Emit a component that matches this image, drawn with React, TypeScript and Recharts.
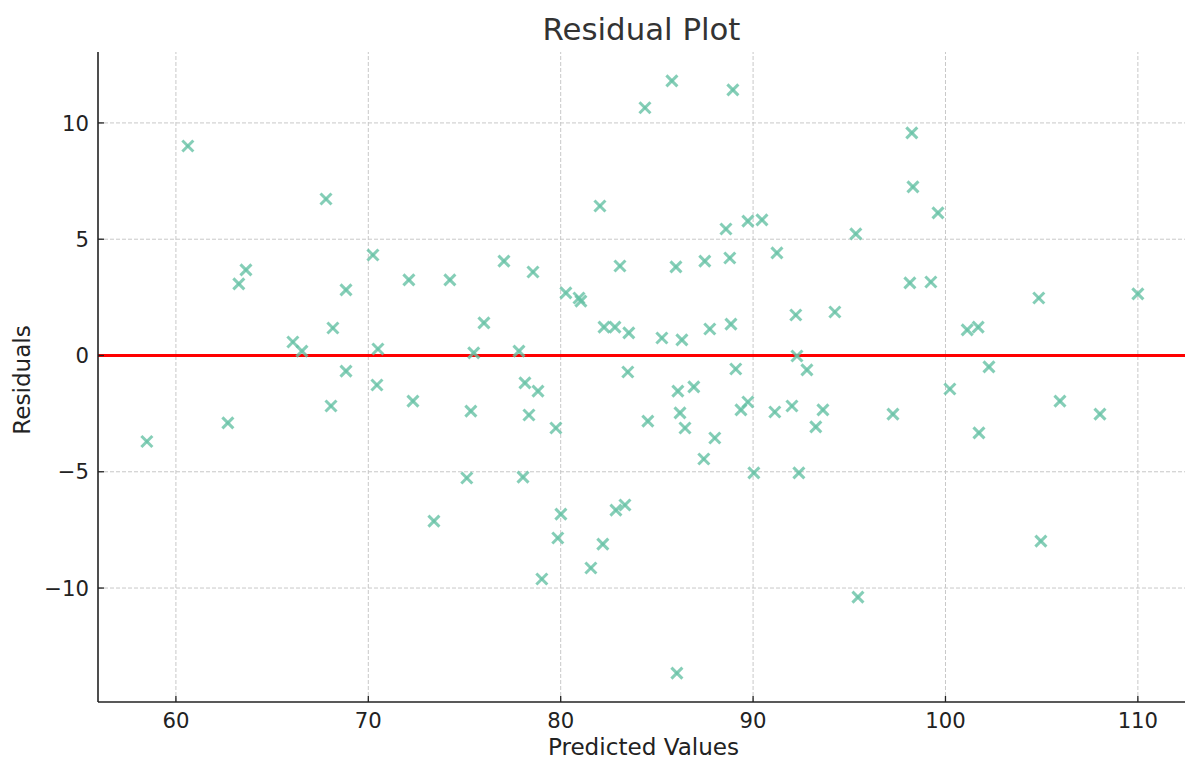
import { ScatterChart, Scatter, XAxis, YAxis, ReferenceLine, Label } from "recharts";

const predicted = [
  58.49, 60.62, 62.7, 63.27, 63.64, 66.08, 66.55, 67.8, 68.06, 68.16, 68.84, 68.84, 70.24, 70.45, 70.5, 72.11, 72.32,
  73.41, 74.24, 75.12, 75.33, 75.48, 76.01, 77.05, 77.83, 78.04, 78.14, 78.35, 78.56, 78.82, 79.02, 79.75, 79.85, 80.01,
  80.27, 80.95, 81.05, 81.57, 82.04, 82.19, 82.25, 82.82, 82.87, 83.08, 83.34, 83.49, 83.54, 84.38, 84.53, 85.26, 85.78,
  85.99, 86.04, 86.09, 86.2, 86.3, 86.46, 86.92, 87.44, 87.49, 87.75, 88.01, 88.59, 88.79, 88.85, 88.95, 89.1, 89.37,
  89.73, 89.73, 90.04, 90.46, 91.13, 91.24, 92.02, 92.22, 92.28, 92.38, 92.8, 93.26, 93.63, 94.25, 95.34, 95.45, 97.27,
  98.15, 98.25, 98.31, 99.24, 99.61, 100.23, 101.13, 101.7, 101.74, 102.26, 104.85, 104.96, 105.95, 108.03, 110.0,
];

const residuals = [
  -3.7, 9.01, -2.9, 3.08, 3.68, 0.58, 0.19, 6.73, -2.17, 1.18, 2.82, -0.67, 4.32, -1.27, 0.28, 3.25, -1.96,
  -7.12, 3.25, -5.27, -2.39, 0.11, 1.4, 4.06, 0.19, -5.23, -1.18, -2.56, 3.59, -1.53, -9.61, -3.12, -7.85, -6.82,
  2.69, 2.47, 2.34, -9.14, 6.43, -8.11, 1.22, 1.22, -6.65, 3.85, -6.43, -0.71, 0.97, 10.65, -2.82, 0.75, 11.81,
  3.81, -13.66, -1.53, -2.47, 0.67, -3.12, -1.35, -4.45, 4.06, 1.14, -3.55, 5.44, 4.19, 1.35, 11.42, -0.58, -2.34,
  5.78, -2.0, -5.05, 5.83, -2.43, 4.41, -2.17, 1.74, -0.02, -5.05, -0.62, -3.07, -2.34, 1.87, 5.23, -10.39, -2.52,
  3.12, 9.57, 7.25, 3.16, 6.13, -1.44, 1.1, 1.22, -3.33, -0.49, 2.47, -7.98, -1.96, -2.52, 2.65,
];

const xTicks = [60, 70, 80, 90, 100, 110];
const yTicks = [-10, -5, 0, 5, 10];

const FONT = "DejaVu Sans";
const INK = "#222";
const GRID = "#c8c8c8";

const data = predicted.map((p, i) => ({ predicted: p, residual: residuals[i] }));

function XMarker(props: any) {
  const { cx, cy } = props;
  const r = 5.5;
  return (
    <g stroke="#66c2a5" strokeOpacity={0.8} strokeWidth={3}>
      <line x1={cx - r} y1={cy - r} x2={cx + r} y2={cy + r} />
      <line x1={cx - r} y1={cy + r} x2={cx + r} y2={cy - r} />
    </g>
  );
}

// matplotlib-style ticks: marks point into the plot
function BottomTick(props: any) {
  const { x, y, payload } = props;
  return (
    <g>
      <line x1={x} y1={y} x2={x} y2={y - 6} stroke={INK} strokeWidth={1.3} />
      <text x={x} y={y + 26} textAnchor="middle" fill={INK} fontSize={21.2} fontFamily={FONT}>
        {payload.value}
      </text>
    </g>
  );
}

function LeftTick(props: any) {
  const { x, y, payload } = props;
  const label = String(payload.value).replace("-", "\u2212");
  return (
    <g>
      <line x1={x} y1={y} x2={x + 6} y2={y} stroke={INK} strokeWidth={1.3} />
      <text x={x - 9} y={y + 7.7} textAnchor="end" fill={INK} fontSize={21.2} fontFamily={FONT}>
        {label}
      </text>
    </g>
  );
}

export default function App() {
  return (
    <div style={{ position: "absolute", left: 0, top: 0, width: 1185, height: 760, background: "#fff" }}>
      <div
        style={{
          position: "absolute",
          left: 98,
          top: 14,
          width: 1087,
          textAlign: "center",
          fontFamily: FONT,
          fontSize: 30.8,
          lineHeight: "30.8px",
          color: "#333",
        }}
      >
        Residual Plot
      </div>
      <ScatterChart width={1185} height={760} margin={{ top: 52, right: 0, bottom: 0, left: 0 }}>
        <XAxis
          type="number"
          dataKey="predicted"
          domain={[55.95, 112.45]}
          ticks={xTicks}
          allowDataOverflow
          height={58}
          tickSize={0}
          tickMargin={0}
          tick={<BottomTick />}
          axisLine={{ stroke: INK, strokeWidth: 1.6 }}
          tickLine={false}
        >
          <Label
            content={({ viewBox }: any) => (
              <text
                x={viewBox.x + viewBox.width / 2 + 2}
                y={755}
                textAnchor="middle"
                fill={INK}
                fontSize={23.1}
                fontFamily={FONT}
              >
                Predicted Values
              </text>
            )}
          />
        </XAxis>
        <YAxis
          type="number"
          dataKey="residual"
          domain={[-14.9, 13.05]}
          ticks={yTicks}
          allowDataOverflow
          width={98}
          tickSize={0}
          tickMargin={0}
          tick={<LeftTick />}
          axisLine={{ stroke: INK, strokeWidth: 1.6 }}
          tickLine={false}
        >
          <Label
            content={({ viewBox }: any) => {
              const cy = viewBox.y + viewBox.height / 2 + 3;
              return (
                <text
                  x={30}
                  y={cy}
                  transform={`rotate(-90, 30, ${cy})`}
                  textAnchor="middle"
                  fill={INK}
                  fontSize={23.1}
                  fontFamily={FONT}
                >
                  Residuals
                </text>
              );
            }}
          />
        </YAxis>
        {/* dashed grid only at tick values */}
        {xTicks.map((t) => (
          <ReferenceLine key={`gx${t}`} x={t} stroke={GRID} strokeDasharray="4 2" strokeWidth={1} />
        ))}
        {yTicks.map((t) => (
          <ReferenceLine key={`gy${t}`} y={t} stroke={GRID} strokeDasharray="4 2" strokeWidth={1} />
        ))}
        <Scatter data={data} shape={<XMarker />} isAnimationActive={false} />
        <ReferenceLine y={0} stroke="#ff0000" strokeWidth={3} />
      </ScatterChart>
    </div>
  );
}
